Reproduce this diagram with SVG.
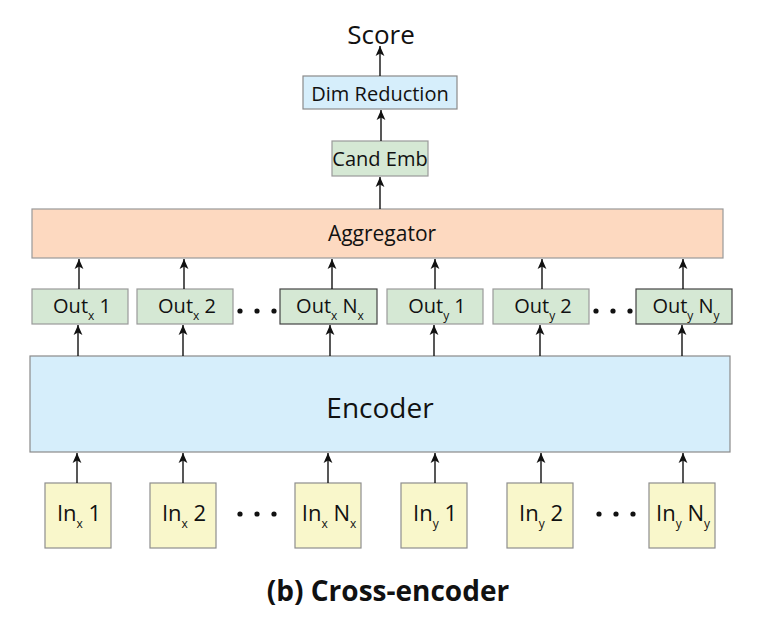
<svg xmlns="http://www.w3.org/2000/svg" width="774" height="628" viewBox="0 0 774 628">
<style>
text{font-family:"Open Sans","Noto Sans","DejaVu Sans",sans-serif;fill:#111;text-anchor:middle}
.lbl{font-size:20px}
.in{font-size:22px}
.sub{font-size:12px}
.out rect{fill:#d5e8d4;stroke:#9a9a9a;stroke-width:1.2}
.out rect.dk{stroke:#444}
.inb rect{fill:#f9f7cb;stroke:#8e8e8e;stroke-width:1.2}
.blue{fill:#d6eefb;stroke:#8a8a8a;stroke-width:1.2}
.conn line{stroke:#111;stroke-width:1.4;marker-end:url(#ah)}
.dot{fill:#111}
</style>
<defs>
<marker id="ah" markerUnits="userSpaceOnUse" markerWidth="12" markerHeight="10" viewBox="0 0 12 10" refX="11" refY="5" orient="auto">
<path d="M11 5 L1 0.6 L3.5 5 L1 9.4 Z" fill="#111"/>
</marker>
</defs>
<rect width="774" height="628" fill="#fff"/>

<g id="score"><text x="381" y="44" style="font-size:26px">Score</text></g>
<g id="dimreduction"><rect class="blue" x="303" y="76" width="154" height="33"/><text class="lbl" x="380" y="101">Dim Reduction</text></g>
<g id="candemb"><rect x="332" y="141" width="96" height="35" style="fill:#d5e8d4;stroke:#9a9a9a;stroke-width:1.2"/><text class="lbl" x="380" y="166">Cand Emb</text></g>
<g id="aggregator"><rect x="32" y="209" width="691" height="49" style="fill:#fdd9c0;stroke:#999;stroke-width:1.2"/><text x="382" y="241" style="font-size:21px">Aggregator</text></g>

<g id="outx1" class="out"><rect x="32" y="289" width="96" height="35"/><text class="lbl" x="82" y="313">Out<tspan class="sub" dy="7">x</tspan><tspan dy="-7"> 1</tspan></text></g>
<g id="outx2" class="out"><rect x="137" y="289" width="96" height="35"/><text class="lbl" x="187" y="313">Out<tspan class="sub" dy="7">x</tspan><tspan dy="-7"> 2</tspan></text></g>
<g id="outxn" class="out"><rect class="dk" x="280" y="289" width="97" height="35"/><text class="lbl" x="330" y="313">Out<tspan class="sub" dy="7">x</tspan><tspan dy="-7"> N</tspan><tspan class="sub" dy="7">x</tspan></text></g>
<g id="outy1" class="out"><rect x="387" y="289" width="96" height="35"/><text class="lbl" x="437" y="313">Out<tspan class="sub" dy="7">y</tspan><tspan dy="-7"> 1</tspan></text></g>
<g id="outy2" class="out"><rect x="493" y="289" width="96" height="35"/><text class="lbl" x="543" y="313">Out<tspan class="sub" dy="7">y</tspan><tspan dy="-7"> 2</tspan></text></g>
<g id="outyn" class="out"><rect class="dk" x="636" y="289" width="96" height="35"/><text class="lbl" x="686" y="313">Out<tspan class="sub" dy="7">y</tspan><tspan dy="-7"> N</tspan><tspan class="sub" dy="7">y</tspan></text></g>

<g id="dots-out">
<circle class="dot" cx="240" cy="311" r="2.6"/><circle class="dot" cx="257" cy="311" r="2.6"/><circle class="dot" cx="274" cy="311" r="2.6"/>
<circle class="dot" cx="596" cy="311" r="2.6"/><circle class="dot" cx="613" cy="311" r="2.6"/><circle class="dot" cx="630" cy="311" r="2.6"/>
</g>

<g id="encoder"><rect class="blue" x="30" y="356" width="700" height="96"/><text x="380" y="418" style="font-size:28px">Encoder</text></g>

<g id="inx1" class="inb"><rect x="45" y="483" width="66" height="65"/><text class="in" x="79" y="521">In<tspan class="sub" dy="7">x</tspan><tspan dy="-7"> 1</tspan></text></g>
<g id="inx2" class="inb"><rect x="150" y="483" width="66" height="65"/><text class="in" x="184" y="521">In<tspan class="sub" dy="7">x</tspan><tspan dy="-7"> 2</tspan></text></g>
<g id="inxn" class="inb"><rect x="295" y="483" width="66" height="65"/><text class="in" x="329" y="521">In<tspan class="sub" dy="7">x</tspan><tspan dy="-7"> N</tspan><tspan class="sub" dy="7">x</tspan></text></g>
<g id="iny1" class="inb"><rect x="401" y="483" width="66" height="65"/><text class="in" x="435" y="521">In<tspan class="sub" dy="7">y</tspan><tspan dy="-7"> 1</tspan></text></g>
<g id="iny2" class="inb"><rect x="507" y="483" width="66" height="65"/><text class="in" x="541" y="521">In<tspan class="sub" dy="7">y</tspan><tspan dy="-7"> 2</tspan></text></g>
<g id="inyn" class="inb"><rect x="649" y="483" width="66" height="65"/><text class="in" x="683" y="521">In<tspan class="sub" dy="7">y</tspan><tspan dy="-7"> N</tspan><tspan class="sub" dy="7">y</tspan></text></g>

<g id="dots-in">
<circle class="dot" cx="240" cy="514" r="2.6"/><circle class="dot" cx="257" cy="514" r="2.6"/><circle class="dot" cx="274" cy="514" r="2.6"/>
<circle class="dot" cx="599" cy="514" r="2.6"/><circle class="dot" cx="616" cy="514" r="2.6"/><circle class="dot" cx="633" cy="514" r="2.6"/>
</g>

<g id="connectors" class="conn">
<line x1="380" y1="76" x2="380" y2="46"/>
<line x1="381" y1="141" x2="381" y2="110"/>
<line x1="380" y1="209" x2="380" y2="177"/>
<line x1="79" y1="289" x2="79" y2="259"/>
<line x1="184" y1="289" x2="184" y2="259"/>
<line x1="332" y1="289" x2="332" y2="259"/>
<line x1="435" y1="289" x2="435" y2="259"/>
<line x1="542" y1="289" x2="542" y2="259"/>
<line x1="683" y1="289" x2="683" y2="259"/>
<line x1="78" y1="356" x2="78" y2="325"/>
<line x1="183" y1="356" x2="183" y2="325"/>
<line x1="330" y1="356" x2="330" y2="325"/>
<line x1="434" y1="356" x2="434" y2="325"/>
<line x1="540" y1="356" x2="540" y2="325"/>
<line x1="682" y1="356" x2="682" y2="325"/>
<line x1="77" y1="483" x2="77" y2="453"/>
<line x1="183" y1="483" x2="183" y2="453"/>
<line x1="328" y1="483" x2="328" y2="453"/>
<line x1="435" y1="483" x2="435" y2="453"/>
<line x1="541" y1="483" x2="541" y2="453"/>
<line x1="683" y1="483" x2="683" y2="453"/>
</g>

<g id="caption"><text x="388" y="601" style="font-size:28px;font-weight:bold">(b) Cross-encoder</text></g>
</svg>
